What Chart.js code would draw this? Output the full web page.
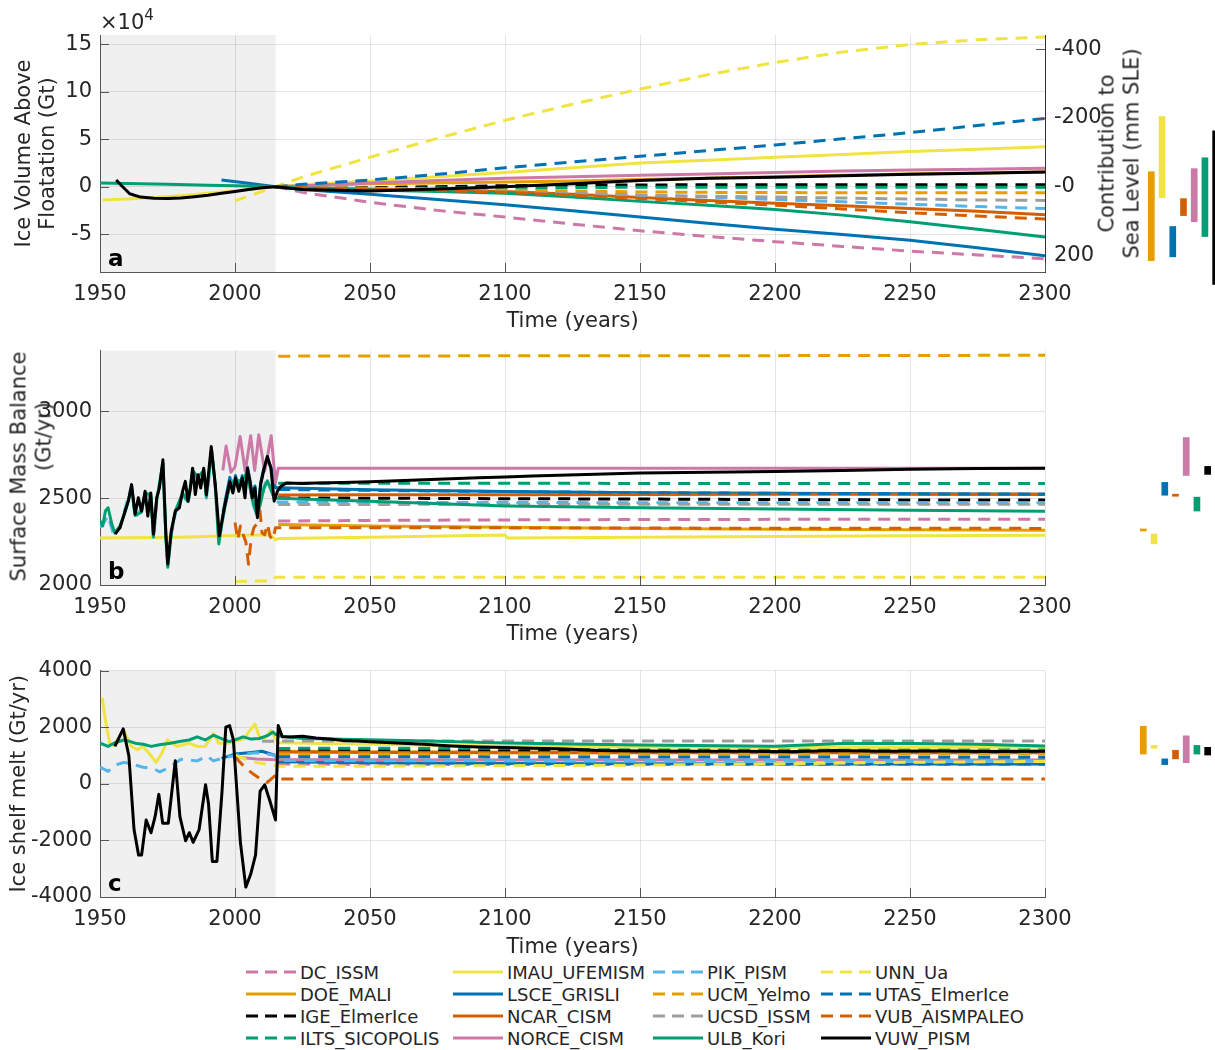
<!DOCTYPE html>
<html>
<head>
<meta charset="utf-8">
<script src="https://cdn.jsdelivr.net/npm/chart.js@4.4.1/dist/chart.umd.min.js"></script>
<style>
  html, body { margin: 0; padding: 0; background: #fff; overflow: hidden; }
  body { width: 1215px; height: 1050px; position: relative; font-family: 'DejaVu Sans', sans-serif; color: #262626; }
  canvas { position: absolute; }
  .txt { position: absolute; white-space: nowrap; }
  .ytitle { position: absolute; white-space: nowrap; transform: rotate(-90deg); text-align: center; font-size: 21px; line-height: 24.6px; }
  .leg { position: absolute; display: flex; align-items: center; height: 22px; font-size: 18px; white-space: nowrap; }
  .leg span { margin-left: 4px; }
</style>
</head>
<body>
<canvas id="panelA" width="1140" height="335" style="left:0;top:0"></canvas>
<canvas id="barsA" width="75" height="200" style="left:1146px;top:100px"></canvas>
<canvas id="panelB" width="1140" height="318" style="left:0;top:330px"></canvas>
<canvas id="barsB" width="75" height="140" style="left:1138px;top:420px"></canvas>
<canvas id="panelC" width="1140" height="311" style="left:0;top:650px"></canvas>
<canvas id="barsC" width="75" height="80" style="left:1138px;top:700px"></canvas>

<div class="txt" style="left:100px;top:6px;font-size:21px;">&times;10<sup style="font-size:15px;vertical-align:9px;">4</sup></div>
<div class="ytitle" style="left:969px;top:129px;width:300px;height:49px;">Contribution to<br>Sea Level (mm SLE)</div>
<div class="ytitle" style="left:-119px;top:442px;width:300px;height:49px;">Surface Mass Balance<br><span style="position:relative;left:30px;">(Gt/yr)</span></div>

<script>
// models, in legend order
const modelNames = ['DC_ISSM', 'DOE_MALI', 'IGE_ElmerIce', 'ILTS_SICOPOLIS', 'IMAU_UFEMISM', 'LSCE_GRISLI',
  'NCAR_CISM', 'NORCE_CISM', 'PIK_PISM', 'UCM_Yelmo', 'UCSD_ISSM', 'ULB_Kori',
  'UNN_Ua', 'UTAS_ElmerIce', 'VUB_AISMPALEO', 'VUW_PISM'];
const histPeriod = [1950, 2015];
const gtPerMmSle = 362;

// tick values
const tickYears = [1950, 2000, 2050, 2100, 2150, 2200, 2250, 2300];
const tickVaf = [-5, 0, 5, 10, 15];
const tickSle = [-400, -200, 0, 200];
const tickSmb = [2000, 2500, 3000];
const tickMelt = [-4000, -2000, 0, 2000, 4000];

// ---- panel a: ice volume above floatation (x 10^4 Gt) ----
const yearsA = [2015, 2025, 2050, 2075, 2100, 2125, 2150, 2175, 2200, 2225, 2250, 2275, 2300];
const aDC_ISSM = [0, -0.6, -1.65, -2.5, -3.2, -3.95, -4.65, -5.25, -5.8, -6.3, -6.8, -7.2, -7.6];
const aDOE_MALI = [0, 0.1, 0.3, 0.4, 0.5, 0.6, 0.75, 0.9, 1.05, 1.2, 1.35, 1.45, 1.55];
const aIGE_ElmerIce = [0, -0.05, -0.1, 0, 0.1, 0.15, 0.18, 0.2, 0.2, 0.2, 0.2, 0.2, 0.2];
const aILTS_SICOPOLIS = [0, -0.1, -0.2, -0.15, -0.1, -0.1, -0.05, -0.05, -0.05, -0.05, -0.05, -0.05, -0.05];
const aIMAU_UFEMISM = [0, 0.2, 0.6, 1.05, 1.5, 2.0, 2.5, 2.8, 3.1, 3.4, 3.7, 3.95, 4.2];
const aLSCE_GRISLI = [0, -0.3, -0.8, -1.35, -1.9, -2.55, -3.2, -3.85, -4.5, -5.05, -5.65, -6.45, -7.3];
const aNCAR_CISM = [0, -0.1, -0.25, -0.35, -0.5, -0.8, -1.15, -1.45, -1.75, -2.0, -2.3, -2.6, -2.95];
const aNORCE_CISM = [0, 0.1, 0.4, 0.65, 0.9, 1.05, 1.2, 1.35, 1.5, 1.65, 1.75, 1.85, 1.95];
const aPIK_PISM = [0, -0.05, -0.2, -0.35, -0.5, -0.7, -0.9, -1.1, -1.35, -1.6, -1.85, -2.1, -2.3];
const aUCM_Yelmo = [0, -0.05, -0.15, -0.25, -0.35, -0.45, -0.55, -0.6, -0.62, -0.64, -0.65, -0.65, -0.65];
const aUCSD_ISSM = [0, -0.05, -0.2, -0.35, -0.55, -0.7, -0.9, -1.0, -1.1, -1.2, -1.3, -1.4, -1.45];
const aULB_Kori = [0, -0.15, -0.35, -0.5, -0.7, -1.1, -1.55, -1.95, -2.4, -3.0, -3.7, -4.5, -5.3];
const aUNN_Ua = [0, 1.0, 3.1, 5.1, 7.0, 8.7, 10.3, 11.8, 13.1, 14.2, 15.0, 15.5, 15.8];
const aUTAS_ElmerIce = [0, 0.25, 0.7, 1.3, 2.0, 2.6, 3.2, 3.8, 4.4, 5.05, 5.7, 6.45, 7.2];
const aVUB_AISMPALEO = [0, -0.1, -0.25, -0.4, -0.6, -0.9, -1.25, -1.6, -1.95, -2.35, -2.75, -3.1, -3.4];
const aVUW_PISM = [0, -0.3, -0.45, -0.25, 0.0, 0.3, 0.65, 0.9, 1.0, 1.15, 1.3, 1.42, 1.55];
// historical runs
const aHistYearsVUW = [1956, 1958, 1961, 1965, 1970, 1975, 1980, 1985, 1990, 1995, 2000, 2005, 2010, 2015];
const aHistVUW = [0.7, 0.1, -0.75, -1.1, -1.22, -1.25, -1.2, -1.05, -0.9, -0.7, -0.5, -0.3, -0.12, 0];
const aHistYearsIMAU = [1951, 1960, 1970, 1980, 1990, 2000, 2010, 2015];
const aHistIMAU = [-1.4, -1.3, -1.15, -0.95, -0.7, -0.45, -0.15, 0];
const aHistYearsULB = [1950, 1975, 1990, 2000, 2010, 2015];
const aHistULB = [0.4, 0.25, 0.15, 0.1, 0.05, 0];
const aHistYearsLSCE = [1995, 2005, 2015];
const aHistLSCE = [0.7, 0.35, 0];
const aHistYearsUNN = [2000, 2005, 2010, 2015];
const aHistUNN = [-1.5, -1.0, -0.5, 0];

// ---- panel b: surface mass balance (Gt/yr) ----
const yearsB = [2016, 2050, 2100, 2101, 2150, 2200, 2250, 2300];
const bDC_ISSM = [2368, 2372, 2375, 2375, 2377, 2378, 2378, 2378];
const bDOE_MALI = [2348, 2340, 2332, 2332, 2326, 2321, 2318, 2315];
const bIGE_ElmerIce = [2502, 2500, 2497, 2497, 2495, 2492, 2490, 2489];
const bILTS_SICOPOLIS = [2586, 2586, 2586, 2586, 2585, 2585, 2585, 2585];
const bIMAU_UFEMISM = [2268, 2275, 2288, 2270, 2275, 2280, 2284, 2287];
const bLSCE_GRISLI = [2560, 2548, 2538, 2538, 2532, 2528, 2525, 2523];
const bNCAR_CISM = [2518, 2520, 2520, 2520, 2521, 2522, 2522, 2523];
const bNORCE_CISM = [2673, 2673, 2673, 2673, 2673, 2673, 2673, 2673];
const bPIK_PISM = [2478, 2476, 2475, 2475, 2474, 2474, 2473, 2473];
const bUCM_Yelmo = [3318, 3319, 3320, 3320, 3320, 3321, 3322, 3323];
const bUCSD_ISSM = [2463, 2464, 2465, 2465, 2465, 2465, 2465, 2465];
const bULB_Kori = [2500, 2482, 2455, 2455, 2445, 2437, 2430, 2425];
const bUNN_Ua = [2045, 2045, 2045, 2045, 2045, 2045, 2045, 2045];
const bUTAS_ElmerIce = [2550, 2545, 2538, 2538, 2532, 2528, 2525, 2523];
const bVUB_AISMPALEO = [2330, 2330, 2329, 2329, 2328, 2327, 2327, 2326];
const bProjYearsVUW = [2015.7, 2017, 2019, 2025, 2030, 2040, 2050, 2060, 2070, 2080, 2090, 2100, 2110, 2120, 2130, 2140, 2150, 2175, 2200, 2225, 2250, 2275, 2300];
const bProjVUW = [2540, 2568, 2588, 2585, 2588, 2590, 2594, 2600, 2606, 2612, 2617, 2622, 2628, 2632, 2637, 2641, 2645, 2650, 2654, 2660, 2667, 2671, 2673];
// historical runs
const bHistYearsVUW = [1955.6, 1957.4, 1959.3, 1960.5, 1961.7, 1963, 1964.2, 1965.4, 1966.7, 1967.7, 1968.8, 1969.8, 1971, 1972, 1973.3, 1974.4, 1975.1, 1976.4, 1977.9, 1979.4, 1980.6, 1981.6, 1982.6, 1983.5, 1984.3, 1985.3, 1986.3, 1987.3, 1988.4, 1989.4, 1991.2, 1992.7, 1994.2, 1995.6, 1996.8, 1998.1, 1999.2, 2000.2, 2001.4, 2002.7, 2003.7, 2004.6, 2005.5, 2006.4, 2007.4, 2008.3, 2009.5, 2010.8, 2012, 2013.3, 2014.5];
const bHistVUW = [2293, 2330, 2426, 2483, 2578, 2408, 2502, 2426, 2540, 2397, 2530, 2293, 2502, 2559, 2721, 2293, 2121, 2312, 2426, 2445, 2540, 2597, 2483, 2559, 2673, 2521, 2635, 2559, 2673, 2521, 2797, 2578, 2283, 2408, 2502, 2597, 2530, 2616, 2540, 2616, 2502, 2673, 2597, 2502, 2559, 2388, 2578, 2673, 2740, 2673, 2483];
const bHistYearsULB = [1950, 1951, 1952, 1953, 1954.4, 1955.5, 1957.4, 1959.3, 1961.7, 1963, 1965.4, 1966.7, 1968.8, 1969.8, 1971, 1973.3, 1974.4, 1975.1, 1976.4, 1978, 1980.6, 1982.6, 1984.3, 1986.3, 1988.4, 1989.4, 1991.4, 1992.7, 1994, 1995.6, 1998.1, 2000.2, 2002.7, 2004.6, 2006.4, 2008.3, 2010.8, 2012, 2014.5];
const bHistULB = [2369, 2340, 2426, 2445, 2350, 2300, 2340, 2420, 2560, 2400, 2420, 2530, 2520, 2280, 2490, 2700, 2280, 2102, 2300, 2430, 2530, 2480, 2660, 2620, 2660, 2510, 2770, 2570, 2236, 2400, 2580, 2600, 2600, 2650, 2490, 2400, 2560, 2600, 2500];
const bHistYearsPIK = [1950, 1951.5, 1953, 1955, 1957.4, 1959.3, 1961.7, 1963, 1965.4, 1966.7, 1968.8, 1969.8, 1971, 1973.3, 1974.4, 1975.1, 1976.4, 1978, 1980.6, 1982.6, 1984.3, 1986.3, 1988.4, 1989.4, 1991.4, 1992.7, 1994, 1995.6, 1998.1, 2000.2, 2002.7, 2004.6, 2006.4, 2008.3, 2010.8, 2012, 2015];
const bHistPIK = [2331, 2360, 2400, 2290, 2330, 2440, 2570, 2390, 2440, 2520, 2510, 2260, 2480, 2700, 2270, 2110, 2290, 2420, 2520, 2470, 2640, 2610, 2650, 2500, 2750, 2560, 2250, 2390, 2590, 2610, 2590, 2660, 2480, 2390, 2570, 2610, 2478];
const bHistYearsLSCE = [1995.6, 1996.8, 1998.1, 1999.2, 2000.2, 2001.4, 2002.7, 2003.7, 2004.6, 2005.5, 2006.4, 2007.4, 2008.3, 2009.5, 2010.8, 2012, 2013.3, 2015];
const bHistLSCE = [2420, 2520, 2620, 2540, 2630, 2550, 2630, 2520, 2680, 2610, 2520, 2570, 2400, 2590, 2680, 2720, 2680, 2560];
const bHistYearsNORCE = [1995.5, 1996.7, 1998.5, 2000, 2001.9, 2003.8, 2005.8, 2007.3, 2008.8, 2011, 2013.4, 2015];
const bHistNORCE = [2660, 2800, 2650, 2680, 2855, 2655, 2860, 2660, 2865, 2655, 2860, 2588];
const bHistYearsVUB = [2000, 2001, 2002, 2003, 2004, 2005, 2006, 2007, 2008, 2009, 2010, 2011, 2012, 2013, 2014, 2015];
const bHistVUB = [2360, 2260, 2340, 2290, 2250, 2120, 2270, 2330, 2350, 2470, 2300, 2290, 2350, 2280, 2260, 2330];
const bHistYearsIMAU = [1950, 1980, 2000, 2013, 2015];
const bHistIMAU = [2270, 2275, 2285, 2290, 2260];
const bHistYearsUNN = [2000, 2014, 2015];
const bHistUNN = [2020, 2025, 2045];

// ---- panel c: ice shelf melt (Gt/yr) ----
const yearsC = [2016, 2050, 2100, 2150, 2200, 2250, 2300];
const cDC_ISSM = [700, 690, 680, 680, 680, 680, 680];
const cDOE_MALI = [1150, 1130, 1120, 1130, 1140, 1150, 1160];
const cIGE_ElmerIce = [1200, 1190, 1180, 1170, 1160, 1150, 1150];
const cILTS_SICOPOLIS = [1250, 1260, 1260, 1260, 1260, 1260, 1260];
const cIMAU_UFEMISM = [1450, 1400, 1330, 1300, 1290, 1290, 1300];
const cLSCE_GRISLI = [780, 740, 720, 710, 700, 700, 700];
const cNCAR_CISM = [1120, 1110, 1100, 1100, 1100, 1100, 1100];
const cNORCE_CISM = [850, 850, 845, 845, 840, 840, 840];
const cPIK_PISM = [820, 815, 810, 810, 810, 810, 810];
const cUCM_Yelmo = [1050, 1050, 1050, 1050, 1050, 1050, 1050];
const cUCSD_ISSM = [1510, 1512, 1514, 1514, 1514, 1514, 1514];
const cUNN_Ua = [620, 620, 640, 660, 700, 760, 790];
const cUTAS_ElmerIce = [960, 960, 950, 950, 950, 940, 940];
const cVUB_AISMPALEO = [170, 170, 170, 170, 170, 170, 170];
const cProjYearsULB = [2016, 2025, 2050, 2075, 2100, 2150, 2200, 2225, 2250, 2275, 2300];
const cProjULB = [1700, 1600, 1560, 1500, 1440, 1370, 1330, 1420, 1420, 1400, 1340];
const cProjYearsVUW = [2016, 2017.5, 2020, 2025, 2030, 2035, 2040, 2045, 2050, 2060, 2070, 2080, 2090, 2100, 2110, 2120, 2135, 2150, 2170, 2190, 2205, 2222, 2240, 2260, 2280, 2300];
const cProjVUW = [2056, 1660, 1650, 1680, 1620, 1580, 1530, 1510, 1490, 1440, 1400, 1340, 1300, 1280, 1260, 1240, 1175, 1160, 1150, 1150, 1130, 1175, 1150, 1160, 1140, 1150];
// historical runs
const cHistYearsVUW = [1955.5, 1958.6, 1960.7, 1962.6, 1964.3, 1965.4, 1967.1, 1968.9, 1970.4, 1971.8, 1973.2, 1975.3, 1977.9, 1979.6, 1981.7, 1983.1, 1984.5, 1986.7, 1989.1, 1990.2, 1991.6, 1993.3, 1995.2, 1996.6, 1998, 1999.4, 2002, 2004, 2005.8, 2007.6, 2009.3, 2011, 2012.9, 2015];
const cHistVUW = [1322, 1944, 983, -1616, -2520, -2520, -1277, -1729, -1163, -373, -1390, -1390, 814, -1163, -2012, -1729, -2068, -1616, -34, -712, -2746, -2746, -260, 2000, 2056, 1548, -2068, -3650, -3198, -2520, -260, -34, -600, -1277];
const cHistYearsULB = [1950, 1953, 1955.5, 1958.8, 1961, 1963, 1966, 1969, 1972, 1976, 1980, 1983, 1986, 1989, 1992, 1995, 1997.8, 2000, 2003, 2006, 2009, 2012, 2014, 2015];
const cHistULB = [1435, 1322, 1450, 1548, 1500, 1435, 1400, 1322, 1380, 1435, 1500, 1548, 1660, 1550, 1717, 1600, 1492, 1550, 1660, 1580, 1600, 1700, 1830, 1750];
const cHistYearsIMAU = [1950.8, 1952.2, 1953.6, 1955, 1958.8, 1961.6, 1963.8, 1965.9, 1968, 1970.8, 1973, 1975, 1978.6, 1983, 1986, 1989, 1992, 1994, 1997.8, 2003.4, 2005.5, 2007.4, 2009, 2011, 2013.3, 2015];
const cHistIMAU = [3050, 2130, 1435, 1350, 1887, 1322, 1210, 1322, 1096, 757, 1096, 1548, 1322, 1435, 1322, 1322, 1774, 1435, 1435, 1600, 1887, 2113, 1660, 1600, 1887, 1600];
const cHistYearsPIK = [1950, 1953, 1955.3, 1958.8, 1961.6, 1966, 1970, 1972.2, 1975.8, 1980, 1986, 1989.6, 1992, 1996.3, 1999.2, 2003, 2008, 2012, 2015];
const cHistPIK = [587, 440, 650, 757, 700, 587, 530, 418, 587, 870, 810, 983, 810, 926, 983, 1050, 1100, 1050, 1000];
const cHistYearsLSCE = [1995, 2000, 2005, 2010, 2015];
const cHistLSCE = [900, 1050, 1100, 1150, 1000];
const cHistYearsVUB = [2000, 2003, 2006, 2009, 2012, 2015];
const cHistVUB = [950, 650, 400, 200, 50, 300];
const cHistYearsNORCE = [2000, 2008, 2015];
const cHistNORCE = [950, 880, 850];
const cHistYearsUNN = [2000, 2008, 2015];
const cHistUNN = [1000, 750, 650];
const cHistYearsUCSD = [2010, 2015];
const cHistUCSD = [1500, 1505];

// ---- side bars: range per model ----
const barModels = ['DOE_MALI', 'IMAU_UFEMISM', 'LSCE_GRISLI', 'NCAR_CISM', 'NORCE_CISM', 'ULB_Kori', 'VUW_PISM'];
const barsVaf = [[-7.8, 1.58], [-1.16, 7.4], [-7.4, -4.2], [-3.05, -1.26], [-3.7, 1.9], [-5.26, 3.05], [-10.3, 5.9]];
const barsSmb = [[2311, 2323], [2237, 2294], [2517, 2591], [2511, 2523], [2631, 2849], [2426, 2506], [2637, 2683]];
const barsMelt = [[1051, 2034], [1254, 1356], [678, 881], [881, 1186], [746, 1695], [1051, 1356], [1017, 1288]];

// line styles
const modelColors = ['#CC79A7', '#E69F00', '#000000', '#009E73', '#F0E442', '#0072B2', '#D55E00', '#CC79A7',
  '#56B4E9', '#E69F00', '#9E9E9E', '#009E73', '#F0E442', '#0072B2', '#D55E00', '#000000'];
const modelDashed = [true, false, true, true, false, false, false, false, true, true, true, false, true, true, true, false];

const none = [];
const panelAData = [
  [none, none, yearsA, aDC_ISSM], [none, none, yearsA, aDOE_MALI], [none, none, yearsA, aIGE_ElmerIce],
  [none, none, yearsA, aILTS_SICOPOLIS], [aHistYearsIMAU, aHistIMAU, yearsA, aIMAU_UFEMISM],
  [aHistYearsLSCE, aHistLSCE, yearsA, aLSCE_GRISLI], [none, none, yearsA, aNCAR_CISM],
  [none, none, yearsA, aNORCE_CISM], [none, none, yearsA, aPIK_PISM], [none, none, yearsA, aUCM_Yelmo],
  [none, none, yearsA, aUCSD_ISSM], [aHistYearsULB, aHistULB, yearsA, aULB_Kori],
  [aHistYearsUNN, aHistUNN, yearsA, aUNN_Ua], [none, none, yearsA, aUTAS_ElmerIce],
  [none, none, yearsA, aVUB_AISMPALEO], [aHistYearsVUW, aHistVUW, yearsA, aVUW_PISM]
];
const panelBData = [
  [none, none, yearsB, bDC_ISSM], [none, none, yearsB, bDOE_MALI], [none, none, yearsB, bIGE_ElmerIce],
  [none, none, yearsB, bILTS_SICOPOLIS], [bHistYearsIMAU, bHistIMAU, yearsB, bIMAU_UFEMISM],
  [bHistYearsLSCE, bHistLSCE, yearsB, bLSCE_GRISLI], [none, none, yearsB, bNCAR_CISM],
  [bHistYearsNORCE, bHistNORCE, yearsB, bNORCE_CISM], [bHistYearsPIK, bHistPIK, yearsB, bPIK_PISM],
  [none, none, yearsB, bUCM_Yelmo], [none, none, yearsB, bUCSD_ISSM],
  [bHistYearsULB, bHistULB, yearsB, bULB_Kori], [bHistYearsUNN, bHistUNN, yearsB, bUNN_Ua],
  [none, none, yearsB, bUTAS_ElmerIce], [bHistYearsVUB, bHistVUB, yearsB, bVUB_AISMPALEO],
  [bHistYearsVUW, bHistVUW, bProjYearsVUW, bProjVUW]
];
const panelCData = [
  [none, none, yearsC, cDC_ISSM], [none, none, yearsC, cDOE_MALI], [none, none, yearsC, cIGE_ElmerIce],
  [none, none, yearsC, cILTS_SICOPOLIS], [cHistYearsIMAU, cHistIMAU, yearsC, cIMAU_UFEMISM],
  [cHistYearsLSCE, cHistLSCE, yearsC, cLSCE_GRISLI], [none, none, yearsC, cNCAR_CISM],
  [cHistYearsNORCE, cHistNORCE, yearsC, cNORCE_CISM], [cHistYearsPIK, cHistPIK, yearsC, cPIK_PISM],
  [none, none, yearsC, cUCM_Yelmo], [cHistYearsUCSD, cHistUCSD, yearsC, cUCSD_ISSM],
  [cHistYearsULB, cHistULB, cProjYearsULB, cProjULB], [cHistYearsUNN, cHistUNN, yearsC, cUNN_Ua],
  [none, none, yearsC, cUTAS_ElmerIce], [cHistYearsVUB, cHistVUB, yearsC, cVUB_AISMPALEO],
  [cHistYearsVUW, cHistVUW, cProjYearsVUW, cProjVUW]
];

Chart.defaults.font.family = "'DejaVu Sans', sans-serif";
Chart.defaults.color = '#262626';

const gridColor = 'rgba(0,0,0,0.1)';
const axisColor = '#555';

// grey box behind the historical period
const historyShade = {
  id: 'historyShade',
  beforeDraw(chart) {
    const x = chart.scales.x, area = chart.chartArea, ctx = chart.ctx;
    const x0 = x.getPixelForValue(histPeriod[0]), x1 = x.getPixelForValue(histPeriod[1]);
    ctx.save();
    ctx.fillStyle = '#f0f0f0';
    ctx.fillRect(x0, area.top, x1 - x0, area.bottom - area.top);
    ctx.restore();
  }
};

// matlab style ticks pointing into the axes
const innerTicks = {
  id: 'innerTicks',
  afterDraw(chart) {
    const ctx = chart.ctx, area = chart.chartArea, s = chart.scales;
    ctx.save();
    ctx.strokeStyle = axisColor;
    ctx.lineWidth = 1;
    ctx.beginPath();
    s.x.ticks.forEach(t => {
      const px = Math.round(s.x.getPixelForValue(t.value)) + 0.5;
      ctx.moveTo(px, area.bottom);
      ctx.lineTo(px, area.bottom - 9);
    });
    s.y.ticks.forEach(t => {
      const py = Math.round(s.y.getPixelForValue(t.value)) + 0.5;
      ctx.moveTo(area.left, py);
      ctx.lineTo(area.left + 9, py);
    });
    if (s.ySle) {
      s.ySle.ticks.forEach(t => {
        const py = Math.round(s.ySle.getPixelForValue(t.value)) + 0.5;
        ctx.moveTo(area.right, py);
        ctx.lineTo(area.right - 9, py);
      });
    }
    ctx.stroke();
    ctx.restore();
  }
};

const panelLabel = {
  id: 'panelLabel',
  afterDraw(chart, args, opts) {
    const ctx = chart.ctx, area = chart.chartArea;
    ctx.save();
    ctx.font = "bold 23px 'DejaVu Sans'";
    ctx.fillStyle = '#000';
    ctx.textBaseline = 'alphabetic';
    ctx.fillText(opts.text, area.left + 8, area.bottom - 6);
    ctx.restore();
  }
};

function fixedTicks(values) {
  return s => { s.ticks = values.map(v => ({ value: v })); };
}

function buildDatasets(table) {
  return table.map((row, i) => {
    const hx = row[0], hy = row[1], px = row[2], py = row[3];
    const pts = hx.map((x, k) => ({x: x, y: hy[k]})).concat(px.map((x, k) => ({x: x, y: py[k]})));
    return {
      label: modelNames[i],
      data: pts,
      borderColor: modelColors[i],
      borderWidth: 3,
      borderDash: modelDashed[i] ? [12, 8] : [],
      borderJoinStyle: 'round',
      pointRadius: 0,
      fill: false,
      order: modelNames.length - i
    };
  });
}

function timeAxis(height) {
  return {
    type: 'linear', min: 1950, max: 2300,
    afterBuildTicks: fixedTicks(tickYears),
    ticks: { padding: 10, autoSkip: false, maxRotation: 0, font: { size: 21 }, callback: v => String(v) },
    grid: { color: gridColor, drawTicks: false },
    border: { color: axisColor },
    title: { display: true, text: 'Time (years)', font: { size: 21 }, padding: { top: 0, bottom: 1 } },
    afterFit: s => { s.height = height; }
  };
}

function valueAxis(min, max, ticks, title, width) {
  return {
    type: 'linear', position: 'left', min: min, max: max,
    afterBuildTicks: fixedTicks(ticks),
    ticks: { padding: 8, autoSkip: false, font: { size: 21 }, callback: v => String(v) },
    grid: { color: gridColor, drawTicks: false },
    border: { color: axisColor },
    title: { display: title !== null, text: title || '', font: { size: 21, lineHeight: 1.17 }, padding: { top: 0, bottom: 0 } },
    afterFit: s => { s.width = width; }
  };
}

function mainChart(id, table, letter, padding, scales) {
  return new Chart(document.getElementById(id), {
    type: 'line',
    data: { datasets: buildDatasets(table) },
    options: {
      responsive: false, animation: false, events: [],
      layout: { padding: padding },
      plugins: { legend: { display: false }, tooltip: { enabled: false }, panelLabel: { text: letter } },
      scales: scales
    },
    plugins: [historyShade, innerTicks, panelLabel]
  });
}

const chartA = mainChart('panelA', panelAData, 'a', { top: 35, left: 12, right: 0, bottom: 0 }, {
  x: timeAxis(63),
  y: valueAxis(-9, 16, tickVaf, ['Ice Volume Above', 'Floatation (Gt)'], 88),
  ySle: {
    type: 'linear', position: 'right', reverse: true,
    min: -16e4 / gtPerMmSle, max: 9e4 / gtPerMmSle,
    afterBuildTicks: fixedTicks(tickSle),
    ticks: { padding: 9, autoSkip: false, font: { size: 21 }, callback: v => v === 0 ? '-0' : String(v) },
    grid: { display: false, drawTicks: false },
    border: { color: '#333' },
    afterFit: s => { s.width = 95; }
  }
});

// panel b title is placed as html (its second line sits off-centre)
const chartB = mainChart('panelB', panelBData, 'b', { top: 18, left: 7, right: 95, bottom: 0 }, {
  x: timeAxis(63),
  y: valueAxis(2000, 3350, tickSmb, null, 93)
});

const chartC = mainChart('panelC', panelCData, 'c', { top: 11, left: 7, right: 95, bottom: 0 }, {
  x: timeAxis(64),
  y: valueAxis(-4000, 4000, tickMelt, 'Ice shelf melt (Gt/yr)', 93)
});

// side bars share the value scale of their panel
function barChart(id, main, topInMain, height, ranges) {
  const ys = main.scales.y;
  return new Chart(document.getElementById(id), {
    type: 'bar',
    data: {
      labels: barModels,
      datasets: [{
        data: ranges,
        backgroundColor: barModels.map(m => modelColors[modelNames.indexOf(m)]),
        borderWidth: 0,
        barThickness: 6
      }]
    },
    options: {
      responsive: false, animation: false, events: [],
      layout: { padding: 0 },
      plugins: { legend: { display: false }, tooltip: { enabled: false } },
      scales: {
        x: { display: false },
        y: { display: false, min: ys.getValueForPixel(topInMain + height), max: ys.getValueForPixel(topInMain) }
      }
    }
  });
}

barChart('barsA', chartA, 100, 200, barsVaf);
barChart('barsB', chartB, 90, 140, barsSmb);
barChart('barsC', chartC, 50, 80, barsMelt);

// legend, four columns filled top to bottom
const legendCols = [246, 453, 653, 821];
const legendRows = [972, 994, 1016, 1038];
modelNames.forEach((name, i) => {
  const item = document.createElement('div');
  item.className = 'leg';
  item.style.left = legendCols[Math.floor(i / 4)] + 'px';
  item.style.top = (legendRows[i % 4] - 11) + 'px';
  const dash = modelDashed[i] ? ' stroke-dasharray="12 7"' : '';
  item.innerHTML = '<svg width="50" height="22"><line x1="0" y1="11" x2="50" y2="11" stroke="' +
    modelColors[i] + '" stroke-width="3"' + dash + '/></svg><span>' + name + '</span>';
  document.body.appendChild(item);
});
</script>
</body>
</html>
